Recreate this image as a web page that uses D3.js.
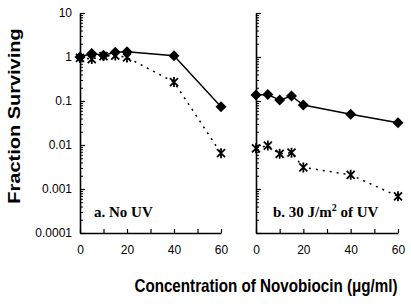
<!DOCTYPE html>
<html>
<head>
<meta charset="utf-8">
<script src="https://cdn.jsdelivr.net/npm/d3@7"></script>
<style>
  body { margin: 0; background: #fff; }
</style>
</head>
<body>
<div id="chart"></div>
<script>
// novobiocin concentrations (ug/ml)
let doses       = [0, 5, 10, 15, 20, 40, 60];

// a. No UV
let noUvSolid   = [1.0, 1.2, 1.1, 1.28, 1.32, 1.07, 0.074];
let noUvDotted  = [0.95, 0.9, 1.05, 1.08, 0.98, 0.27, 0.0065];

// b. 30 J/m2 of UV
let uvSolid     = [0.137, 0.14, 0.105, 0.13, 0.081, 0.05, 0.032];
let uvDotted    = [0.0084, 0.0097, 0.0063, 0.0067, 0.0031, 0.0021, 0.00068];

let yTicks      = [0.0001, 0.001, 0.01, 0.1, 1, 10];
let yTickLabels = ["0.0001", "0.001", "0.01", "0.1", "1", "10"];
let xTicks      = [0, 10, 20, 30, 40, 50, 60];
let xTickLabels = [0, 20, 40, 60];

let width  = 411;
let height = 306;
let sans   = "Liberation Sans, Arial, sans-serif";
let serif  = "Liberation Serif, Times New Roman, serif";

let svg = d3.select("#chart").append("svg")
	.attr("width", width)
	.attr("height", height)
	.style("font-family", sans);

let y = d3.scaleLog().domain([0.0001, 10]).range([233, 13]);

let minors = [];
yTicks.slice(0, -1).forEach((d) => {
	for (let k = 2; k < 10; k++) minors.push(d * k);
});

function drawPanel(x0, x1, solid, dotted, showY, label) {
	let x = d3.scaleLinear().domain([0, 60]).range([x0, x1]);
	let g = svg.append("g");

	// minor log ticks
	g.append("g")
		.attr("transform", "translate(" + x0 + ",0)")
		.call(d3.axisLeft(y).tickValues(minors).tickSize(-3).tickFormat(""))
		.call((a) => a.select(".domain").remove())
		.selectAll("line").attr("stroke-width", 1);

	let yAxis = g.append("g")
		.attr("transform", "translate(" + x0 + ",0)")
		.call(d3.axisLeft(y).tickValues(yTicks).tickSizeInner(-5).tickSizeOuter(0).tickPadding(8)
			.tickFormat((d, i) => (showY ? yTickLabels[i] : "")));
	yAxis.select(".domain").attr("stroke-width", 1.6);
	yAxis.selectAll("line").attr("stroke-width", 1.2);
	yAxis.selectAll("text").attr("font-size", 12).attr("font-family", sans).attr("fill", "#000");

	let xAxis = g.append("g")
		.attr("transform", "translate(0,233)")
		.call(d3.axisBottom(x).tickValues(xTicks).tickSizeInner(-4).tickSizeOuter(0).tickPadding(12)
			.tickFormat((d) => (xTickLabels.includes(d) ? d : "")));
	xAxis.select(".domain").attr("stroke-width", 1.6);
	xAxis.selectAll("line").attr("stroke-width", 1.2);
	xAxis.selectAll("text").attr("font-size", 12).attr("font-family", sans).attr("fill", "#000");

	let line = d3.line().x((d, i) => x(doses[i])).y((d) => y(d));

	g.append("path")
		.datum(dotted)
		.attr("fill", "none")
		.attr("stroke", "#000")
		.attr("stroke-width", 1.5)
		.attr("stroke-dasharray", "2,5")
		.attr("d", line);

	g.append("path")
		.datum(solid)
		.attr("fill", "none")
		.attr("stroke", "#000")
		.attr("stroke-width", 1.4)
		.attr("d", line);

	// asterisk markers
	g.append("g").selectAll("path")
		.data(dotted).enter()
		.append("path")
			.attr("transform", (d, i) => "translate(" + x(doses[i]) + "," + y(d) + ")")
			.attr("d", "M-4,-4L4,4M-4,4L4,-4M0,-5L0,5")
			.attr("stroke", "#000")
			.attr("stroke-width", 1.8)
			.attr("fill", "none");

	// diamond markers
	g.append("g").selectAll("path")
		.data(solid).enter()
		.append("path")
			.attr("transform", (d, i) => "translate(" + x(doses[i]) + "," + y(d) + ")")
			.attr("d", "M0,-5.5L5.5,0L0,5.5L-5.5,0Z")
			.attr("fill", "#000");

	let t = g.append("text")
		.attr("x", label.x)
		.attr("y", 217)
		.style("font-family", serif)
		.attr("font-weight", "bold")
		.attr("font-size", 15)
		.text(label.text);
	if (label.sup) {
		t.append("tspan").attr("font-size", 10).attr("dy", -6).text(label.sup);
		t.append("tspan").attr("dy", 6).text(label.rest);
	}
}

drawPanel(80, 221, noUvSolid, noUvDotted, true, { x: 94, text: "a. No UV" });
drawPanel(256, 398, uvSolid, uvDotted, false, { x: 273, text: "b. 30 J/m", sup: "2", rest: " of UV" });

svg.append("text")
	.attr("transform", "translate(20,116) rotate(-90) scale(1,0.82)")
	.attr("text-anchor", "middle")
	.attr("font-weight", "bold")
	.attr("font-size", 20)
	.text("Fraction Surviving");

svg.append("text")
	.attr("transform", "translate(266,292) scale(1,1.22)")
	.attr("text-anchor", "middle")
	.attr("font-weight", "bold")
	.attr("font-size", 15.2)
	.text("Concentration of Novobiocin (\u03bcg/ml)");
</script>
</body>
</html>
